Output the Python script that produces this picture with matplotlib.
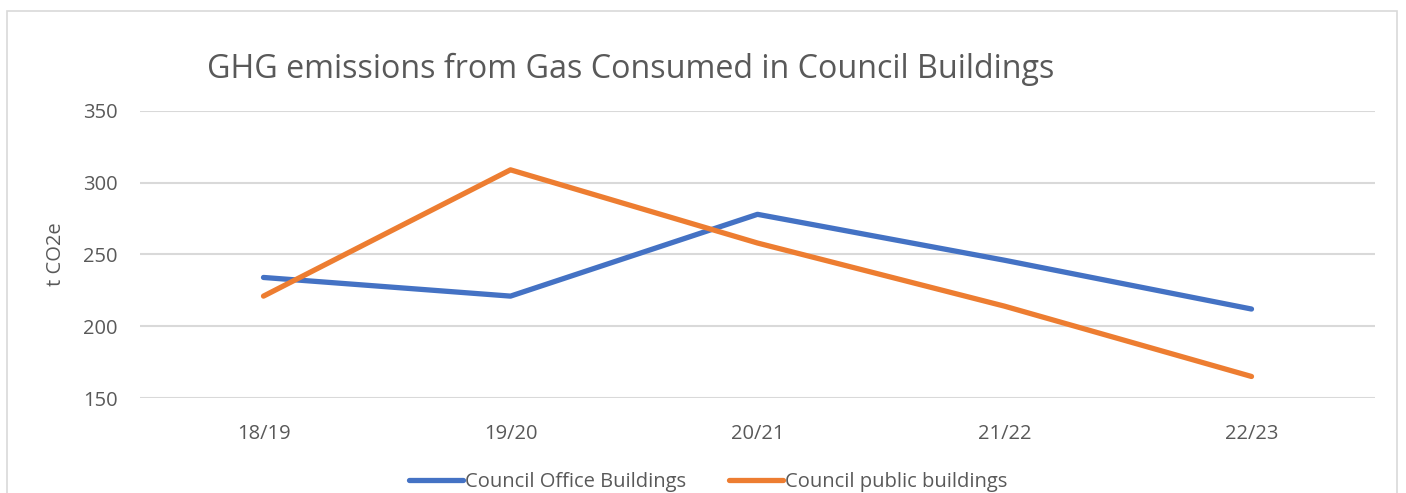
import matplotlib
matplotlib.use("Agg")
import matplotlib.pyplot as plt
from matplotlib.patches import Rectangle

categories = ["18/19", "19/20", "20/21", "21/22", "22/23"]
office = [234, 221, 278, 246, 212]
public = [221, 309, 258, 214, 165]
yticks = [150, 200, 250, 300, 350]

W, H = 1406, 493
fig = plt.figure(figsize=(W / 100, H / 100), dpi=100)
plt.rcParams['font.family'] = ['Open Sans', 'DejaVu Sans']

fig.patches.append(Rectangle((7 / W, -0.1), (1397 - 7) / W, 1.1 - 11 / H,
                             transform=fig.transFigure, fill=False,
                             edgecolor="#d9d9d9", lw=1.2))

ax = fig.add_axes([140 / W, (H - 398) / H, (1375 - 140) / W, (398 - 111) / H])
x = range(len(categories))
ax.plot(x, office, color="#4472C4", lw=3.8, solid_capstyle="round",
        solid_joinstyle="round", label="Council Office Buildings")
ax.plot(x, public, color="#ED7D31", lw=3.8, solid_capstyle="round",
        solid_joinstyle="round", label="Council public buildings")
ax.set_xlim(-0.5, len(categories) - 0.5)
ax.set_ylim(150, 350)
ax.set_yticks(yticks)
ax.set_xticks(list(x))
ax.set_xticklabels(categories)
for s in ax.spines.values():
    s.set_visible(False)
ax.grid(axis="y", color="#d9d9d9", lw=1.5)
ax.set_axisbelow(True)
ax.tick_params(length=0, labelsize=14.5, labelcolor="#595959")
ax.tick_params(axis="x", pad=19)
ax.tick_params(axis="y", pad=16)
ax.set_ylabel("t CO2e", fontsize=14.5, color="#595959", labelpad=12)

fig.text(207 / W, (H - 78) / H, "GHG emissions from Gas Consumed in Council Buildings",
         fontsize=23.2, color="#595959", ha="left", va="baseline")

fig.legend(loc="center", bbox_to_anchor=(708 / W, (H - 482) / H), ncol=2,
           frameon=False, fontsize=14.5, labelcolor="#595959",
           handlelength=2.7, handletextpad=0.1, columnspacing=2.1)

fig.savefig("out.png", dpi=100)
